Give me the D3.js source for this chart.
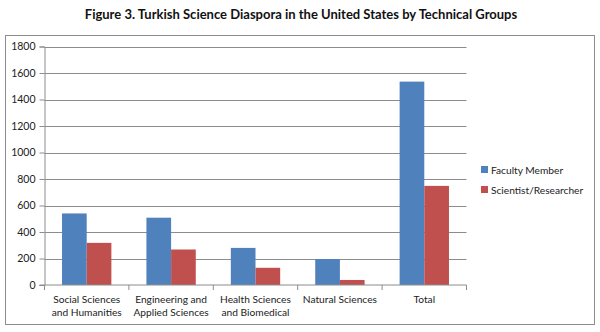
<!DOCTYPE html>
<html>
<head>
<meta charset="utf-8">
<script src="https://cdn.jsdelivr.net/npm/d3@7"></script>
<style>
  html, body { margin: 0; padding: 0; background: #fff; }
  svg { display: block; font-family: Lato, "Open Sans", sans-serif; }
</style>
</head>
<body>
<svg id="chart" width="600" height="332"></svg>
<script>
const categories = [
  ["Social Sciences", "and Humanities"],
  ["Engineering and", "Applied Sciences"],
  ["Health Sciences", "and Biomedical"],
  ["Natural Sciences"],
  ["Total"]
];
const seriesNames = ["Faculty Member", "Scientist/Researcher"];
const facultyMember = [540, 508, 280, 196, 1535];
const scientistResearcher = [318, 268, 130, 38, 748];
const yTicks = [0, 200, 400, 600, 800, 1000, 1200, 1400, 1600, 1800];
const colors = ["#4F81BD", "#C0504D"];

const svg = d3.select("#chart");

// Title
svg.append("text")
  .attr("x", 301).attr("y", 18.5)
  .attr("text-anchor", "middle")
  .attr("font-size", 13).attr("font-weight", "bold")
  .attr("fill", "#111")
  .text("Figure 3. Turkish Science Diaspora in the United States by Technical Groups");

// Chart frame
svg.append("rect")
  .attr("x", 5.5).attr("y", 35.5).attr("width", 589).attr("height", 289)
  .attr("fill", "none").attr("stroke", "#8c8c8c").attr("stroke-width", 1);

const plot = { left: 44.5, right: 466.5, top: 46.5, bottom: 285 };

const x = d3.scaleBand()
  .domain(d3.range(categories.length))
  .range([plot.left, plot.right])
  .paddingInner(0).paddingOuter(0);

const x1 = d3.scaleBand()
  .domain(d3.range(seriesNames.length))
  .range([0, x.bandwidth()])
  .paddingOuter(0.71).paddingInner(0);

const y = d3.scaleLinear().domain([0, 1800]).range([plot.bottom, plot.top]);

// Gridlines
svg.append("g")
  .selectAll("line")
  .data(yTicks.filter(d => d > 0))
  .join("line")
  .attr("x1", plot.left).attr("x2", plot.right)
  .attr("y1", d => Math.round(y(d)) + 0.5).attr("y2", d => Math.round(y(d)) + 0.5)
  .attr("stroke", "#8c8c8c").attr("stroke-width", 1);

// Bars
const series = [facultyMember, scientistResearcher];
const groups = svg.append("g")
  .selectAll("g")
  .data(categories.map((c, i) => i))
  .join("g")
  .attr("transform", i => `translate(${x(i)},0)`);

groups.selectAll("rect")
  .data(i => series.map((s, k) => ({ k, v: s[i] })))
  .join("rect")
  .attr("x", d => x1(d.k))
  .attr("width", x1.bandwidth())
  .attr("y", d => y(d.v))
  .attr("height", d => y(0) - y(d.v))
  .attr("fill", d => colors[d.k]);

// Y axis
const yAxis = svg.append("g")
  .attr("transform", `translate(${plot.left},0)`)
  .call(d3.axisLeft(y).tickValues(yTicks).tickSize(5).tickPadding(4).tickFormat(d3.format("d")));
yAxis.select(".domain").attr("stroke", "#8c8c8c");
yAxis.selectAll(".tick line").attr("stroke", "#8c8c8c");
yAxis.selectAll(".tick text").attr("font-size", 10.5).attr("fill", "#222")
  .attr("font-family", "Lato, sans-serif");

// X axis with boundary ticks between categories
const xAxis = svg.append("g").attr("transform", `translate(0,${plot.bottom})`);
xAxis.append("line")
  .attr("x1", plot.left - 5).attr("x2", plot.right)
  .attr("stroke", "#8c8c8c");
xAxis.selectAll("line.bt")
  .data(d3.range(categories.length + 1))
  .join("line").attr("class", "bt")
  .attr("x1", i => i < categories.length ? x(i) : plot.right)
  .attr("x2", i => i < categories.length ? x(i) : plot.right)
  .attr("y1", 0).attr("y2", 5)
  .attr("stroke", "#8c8c8c");

const labels = xAxis.selectAll("text.cat")
  .data(categories)
  .join("text").attr("class", "cat")
  .attr("x", (d, i) => x(i) + x.bandwidth() / 2)
  .attr("y", 18)
  .attr("text-anchor", "middle")
  .attr("font-size", 10.2).attr("fill", "#222");
labels.selectAll("tspan")
  .data(d => d)
  .join("tspan")
  .attr("x", function () { return this.parentNode.getAttribute("x"); })
  .attr("dy", (d, j) => j === 0 ? 0 : 13)
  .text(d => d);

// Legend
const legend = svg.append("g")
  .selectAll("g")
  .data(seriesNames)
  .join("g")
  .attr("transform", (d, i) => `translate(481,${166 + i * 20})`);
legend.append("rect")
  .attr("width", 7).attr("height", 7)
  .attr("fill", (d, i) => colors[i]);
legend.append("text")
  .attr("x", 10).attr("y", 7.5)
  .attr("font-size", 10.2).attr("fill", "#222")
  .text(d => d);
</script>
</body>
</html>
